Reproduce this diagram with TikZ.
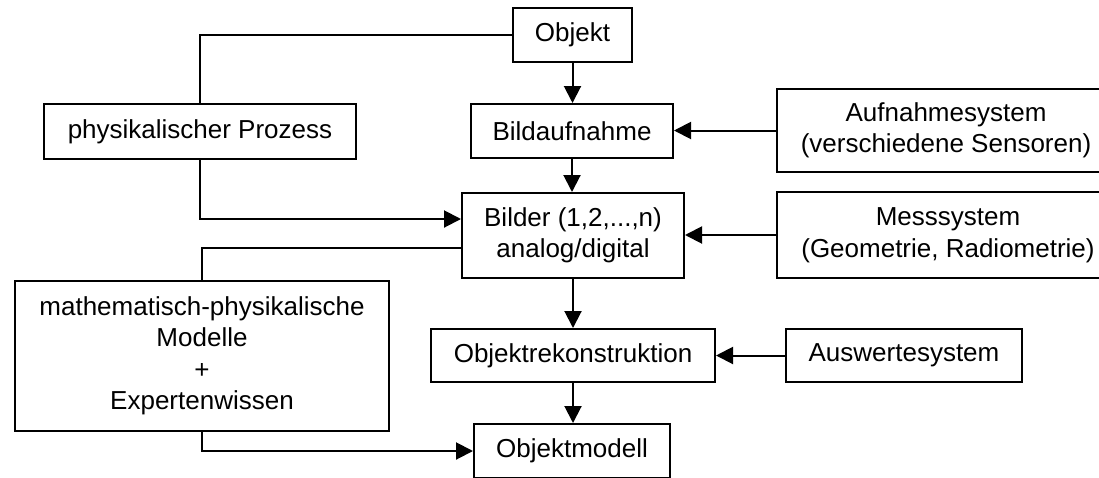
\documentclass[tikz,border=0pt]{standalone}
\usepackage{fontspec}
\setmainfont{Liberation Sans}
\usetikzlibrary{arrows.meta}
\begin{document}
\begin{tikzpicture}[x=1pt,y=-1pt,
  box/.style={draw, line width=2pt, inner sep=0pt, align=center, font=\fontsize{26}{31.5}\selectfont},
  link/.style={line width=2pt},
  arr/.style={link, -{Triangle[length=17pt,width=17pt]}}]
\useasboundingbox (0,0) rectangle (1099,477);
\clip (0,0) rectangle (1099,477);
\node[box, minimum width=119pt, minimum height=54pt] (obj) at (572.5,35) {Objekt};
\node[box, minimum width=202pt, minimum height=54pt] (bild) at (572,131) {Bildaufnahme};
\node[box, minimum width=312pt, minimum height=55pt] (phys) at (200,131.5) {physikalischer Prozess};
\node[box, minimum width=338pt, minimum height=83pt] (aufn) at (946,130.5) {Aufnahmesystem\\(verschiedene Sensoren)};
\node[box, minimum width=222pt, minimum height=85pt] (bilder) at (573,235.5) {Bilder (1,2,...,n)\\analog/digital};
\node[box, minimum width=342pt, minimum height=86pt] (mess) at (948,235) {Messsystem\\(Geometrie, Radiometrie)};
\node[box, minimum width=374pt, minimum height=150pt] (math) at (202,356) {mathematisch-physikalische\\Modelle\\+\\Expertenwissen};
\node[box, minimum width=284pt, minimum height=53pt] (rekon) at (573,355.5) {Objektrekonstruktion};
\node[box, minimum width=236pt, minimum height=53pt] (ausw) at (904,355.5) {Auswertesystem};
\node[box, minimum width=196pt, minimum height=54pt] (model) at (572,451) {Objektmodell};

\draw[arr] (obj.south) -- (obj.south |- bild.north);
\draw[arr] (bild.south) -- (bild.south |- bilder.north);
\draw[arr] (bilder.south) -- (bilder.south |- rekon.north);
\draw[arr] (rekon.south) -- (rekon.south |- model.north);
\draw[link] (obj.west) -| (phys.north);
\draw[arr] (phys.south) |- ([yshift=16.5pt]bilder.west);
\draw[link] ([yshift=-12.5pt]bilder.west) -| (math.north);
\draw[arr] (math.south) |- (model.west);
\draw[arr] (aufn.west) -- (bild.east |- aufn.west);
\draw[arr] (mess.west) -- (bilder.east |- mess.west);
\draw[arr] (ausw.west) -- (rekon.east |- ausw.west);
\end{tikzpicture}
\end{document}
